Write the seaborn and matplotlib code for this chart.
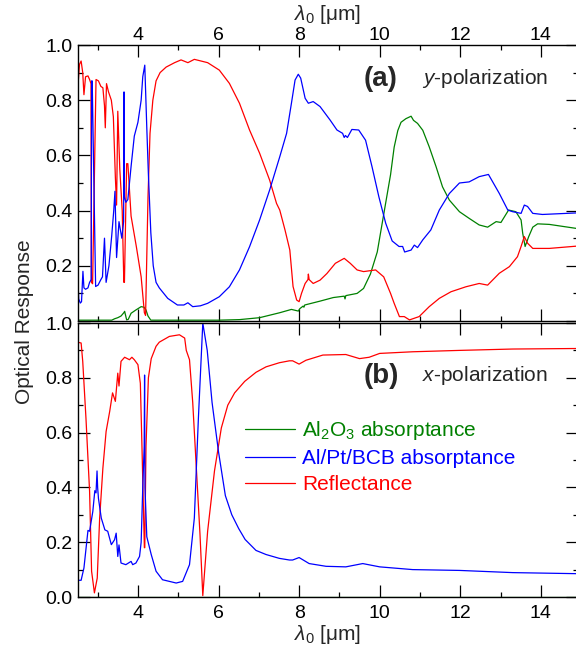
import matplotlib
matplotlib.use("Agg")
import matplotlib.pyplot as plt
from matplotlib.ticker import MultipleLocator, FuncFormatter
import seaborn as sns

# ---------------- (a) y-polarization ----------------
wl_a_al2o3 = [2.50, 3.35, 3.42, 3.50, 3.58, 3.65, 3.67, 3.72, 3.76, 3.83, 3.95, 4.08, 4.15,
              4.20, 4.25, 4.32, 6.00, 6.52, 7.02, 7.52, 7.81, 7.98, 8.02, 8.10, 8.12, 8.14,
              8.52, 8.85, 9.12, 9.14, 9.16, 9.44, 9.60, 9.77, 9.94, 10.10, 10.27, 10.36,
              10.45, 10.53, 10.65, 10.78, 10.84, 10.94, 11.07, 11.23, 11.40, 11.56, 11.73,
              11.98, 12.22, 12.47, 12.68, 12.89, 13.01, 13.20, 13.38, 13.51, 13.55, 13.61,
              13.70, 13.80, 13.92, 14.21, 14.95]
a_al2o3 = [0.003, 0.003, 0.008, 0.012, 0.018, 0.030, 0.035, 0.004, 0.006, 0.028, 0.040, 0.052,
           0.050, 0.040, 0.018, 0.003, 0.003, 0.005, 0.012, 0.030, 0.042, 0.036, 0.045, 0.054,
           0.050, 0.058, 0.072, 0.085, 0.090, 0.080, 0.092, 0.100, 0.118, 0.170, 0.250, 0.386,
           0.530, 0.630, 0.690, 0.720, 0.733, 0.742, 0.727, 0.716, 0.691, 0.631, 0.559, 0.486,
           0.438, 0.396, 0.372, 0.348, 0.340, 0.360, 0.357, 0.402, 0.396, 0.366, 0.318, 0.270,
           0.306, 0.340, 0.352, 0.350, 0.334]

wl_a_metal = [2.50, 2.53, 2.57, 2.60, 2.635, 2.66, 2.70, 2.76, 2.80, 2.84, 2.85, 2.865, 2.95,
              3.01, 3.08, 3.12, 3.17, 3.21, 3.28, 3.35, 3.40, 3.43, 3.47, 3.53, 3.60, 3.645,
              3.655, 3.665, 3.70, 3.75, 3.83, 3.91, 4.00, 4.08, 4.12, 4.17, 4.22, 4.26, 4.32,
              4.38, 4.45, 4.53, 4.74, 4.98, 5.14, 5.24, 5.36, 5.55, 5.73, 6.02, 6.27, 6.52,
              6.77, 7.02, 7.27, 7.52, 7.69, 7.81, 7.90, 7.98, 8.04, 8.15, 8.23, 8.35, 8.52,
              8.77, 8.94, 9.08, 9.12, 9.15, 9.20, 9.31, 9.48, 9.65, 9.81, 9.98, 10.15, 10.31,
              10.48, 10.57, 10.62, 10.78, 10.86, 10.94, 11.07, 11.27, 11.48, 11.73, 11.98,
              12.22, 12.47, 12.70, 12.97, 13.18, 13.30, 13.51, 13.59, 13.67, 13.80, 14.04, 14.95]
a_metal = [0.19, 0.08, 0.065, 0.07, 0.18, 0.12, 0.115, 0.12, 0.14, 0.15, 0.87, 0.87, 0.125,
           0.13, 0.15, 0.16, 0.30, 0.14, 0.20, 0.31, 0.40, 0.47, 0.23, 0.36, 0.30, 0.36,
           0.83, 0.45, 0.43, 0.44, 0.56, 0.67, 0.72, 0.80, 0.885, 0.927, 0.70, 0.53, 0.32,
           0.20, 0.14, 0.12, 0.082, 0.058, 0.058, 0.066, 0.052, 0.055, 0.064, 0.088, 0.124,
           0.185, 0.269, 0.366, 0.475, 0.595, 0.680, 0.789, 0.873, 0.894, 0.880, 0.807, 0.789,
           0.795, 0.777, 0.728, 0.692, 0.680, 0.665, 0.672, 0.665, 0.694, 0.692, 0.655, 0.559,
           0.450, 0.354, 0.290, 0.270, 0.270, 0.250, 0.257, 0.275, 0.266, 0.294, 0.330, 0.402,
           0.462, 0.500, 0.504, 0.523, 0.531, 0.462, 0.402, 0.396, 0.390, 0.420, 0.415, 0.390,
           0.386, 0.392]

wl_a_refl = [2.50, 2.55, 2.59, 2.63, 2.66, 2.70, 2.76, 2.80, 2.835, 2.845, 2.875, 2.96, 3.02,
             3.08, 3.13, 3.17, 3.19, 3.22, 3.27, 3.34, 3.39, 3.44, 3.47, 3.50, 3.55, 3.61,
             3.65, 3.665, 3.72, 3.75, 3.83, 3.96, 4.08, 4.16, 4.19, 4.25, 4.30, 4.37, 4.45,
             4.55, 4.70, 4.91, 5.07, 5.24, 5.40, 5.73, 6.02, 6.27, 6.52, 6.77, 7.02, 7.27,
             7.44, 7.52, 7.65, 7.77, 7.85, 7.94, 8.00, 8.06, 8.15, 8.22, 8.23, 8.25, 8.35,
             8.52, 8.69, 8.90, 9.12, 9.27, 9.44, 9.60, 9.90, 10.10, 10.27, 10.36, 10.49,
             10.61, 10.74, 10.98, 11.23, 11.48, 11.77, 12.14, 12.47, 12.68, 12.97, 13.22,
             13.42, 13.51, 13.59, 13.67, 13.80, 14.21, 14.95]
a_refl = [0.83, 0.93, 0.942, 0.90, 0.82, 0.885, 0.888, 0.875, 0.86, 0.14, 0.135, 0.875, 0.87,
          0.85, 0.845, 0.78, 0.70, 0.86, 0.83, 0.80, 0.74, 0.52, 0.42, 0.76, 0.55, 0.40,
          0.14, 0.14, 0.57, 0.57, 0.38, 0.27, 0.16, 0.03, 0.02, 0.45, 0.68, 0.80, 0.87,
          0.90, 0.92, 0.936, 0.946, 0.936, 0.948, 0.936, 0.909, 0.861, 0.789, 0.692, 0.608,
          0.510, 0.426, 0.402, 0.330, 0.257, 0.125, 0.076, 0.070, 0.100, 0.136, 0.150, 0.170,
          0.150, 0.136, 0.148, 0.172, 0.209, 0.227, 0.209, 0.185, 0.179, 0.185, 0.160, 0.100,
          0.064, 0.016, 0.016, 0.004, 0.016, 0.052, 0.082, 0.106, 0.124, 0.136, 0.130, 0.173,
          0.197, 0.233, 0.270, 0.306, 0.282, 0.263, 0.263, 0.272]

# ---------------- (b) x-polarization ----------------
wl_b_al2o3 = [2.50, 14.95]
b_al2o3 = [0.0, 0.0]

wl_b_metal = [2.50, 2.59, 2.66, 2.76, 2.80, 2.88, 2.93, 2.96, 2.985, 3.00, 3.02, 3.09, 3.18,
              3.25, 3.34, 3.42, 3.46, 3.50, 3.53, 3.58, 3.70, 3.83, 3.87, 3.95, 4.04, 4.08,
              4.12, 4.155, 4.165, 4.175, 4.22, 4.33, 4.45, 4.61, 4.95, 5.11, 5.28, 5.40, 5.50,
              5.61, 5.72, 5.84, 6.00, 6.17, 6.33, 6.50, 6.66, 6.93, 7.18, 7.51, 7.76, 7.84,
              8.00, 8.25, 8.67, 9.16, 9.58, 10.00, 10.82, 11.98, 13.30, 14.95]
b_metal = [0.061, 0.061, 0.106, 0.243, 0.240, 0.312, 0.388, 0.380, 0.460, 0.400, 0.360, 0.288,
           0.245, 0.240, 0.191, 0.209, 0.233, 0.148, 0.190, 0.124, 0.118, 0.130, 0.118, 0.124,
           0.148, 0.200, 0.400, 0.550, 0.810, 0.400, 0.220, 0.155, 0.094, 0.063, 0.051, 0.057,
           0.118, 0.288, 0.650, 1.000, 0.900, 0.710, 0.530, 0.370, 0.300, 0.250, 0.210, 0.170,
           0.155, 0.141, 0.135, 0.135, 0.144, 0.122, 0.112, 0.110, 0.122, 0.110, 0.100, 0.097,
           0.089, 0.085]

wl_b_refl = [2.50, 2.59, 2.63, 2.71, 2.80, 2.85, 2.92, 2.99, 3.05, 3.13, 3.21, 3.30, 3.37,
             3.44, 3.50, 3.53, 3.58, 3.67, 3.79, 3.85, 3.91, 4.00, 4.06, 4.10, 4.14, 4.16,
             4.17, 4.20, 4.26, 4.33, 4.45, 4.53, 4.78, 5.03, 5.16, 5.20, 5.28, 5.36, 5.45,
             5.54, 5.61, 5.73, 5.90, 6.07, 6.23, 6.40, 6.65, 6.93, 7.18, 7.51, 7.76, 7.84,
             8.00, 8.17, 8.59, 9.16, 9.50, 9.74, 10.00, 10.82, 11.98, 13.30, 14.95]
b_refl = [0.930, 0.927, 0.860, 0.653, 0.386, 0.094, 0.015, 0.069, 0.288, 0.470, 0.604, 0.678,
          0.745, 0.714, 0.817, 0.770, 0.860, 0.875, 0.866, 0.875, 0.866, 0.848, 0.780, 0.550,
          0.300, 0.180, 0.180, 0.550, 0.800, 0.870, 0.915, 0.930, 0.951, 0.957, 0.945, 0.900,
          0.866, 0.710, 0.470, 0.230, 0.005, 0.240, 0.460, 0.617, 0.700, 0.745, 0.787, 0.820,
          0.840, 0.855, 0.862, 0.862, 0.850, 0.864, 0.883, 0.885, 0.870, 0.875, 0.889, 0.895,
          0.900, 0.905, 0.907]

labels = [r"Al$_2$O$_3$ absorptance", "Al/Pt/BCB absorptance", "Reflectance"]
colors = ["#008000", "#0000ff", "#ff0000"]
yticks = [0.0, 0.2, 0.4, 0.6, 0.8, 1.0]

sns.set_theme(style="ticks")
plt.rcParams.update({
    "font.family": ["Liberation Sans", "DejaVu Sans"],
    "mathtext.fontset": "custom",
    "mathtext.rm": "Liberation Sans",
    "mathtext.it": "Liberation Sans:italic",
    "mathtext.bf": "Liberation Sans:bold",
    "axes.edgecolor": "black",
    "axes.linewidth": 1.0,
    "xtick.color": "black",
    "ytick.color": "black",
})

W, H = 576, 646
fig = plt.figure(figsize=(W / 100, H / 100), dpi=100)
left, width = 78.3 / W, 500 / W
ax_a = fig.add_axes([left, (H - 321) / H, width, 276 / H])
ax_b = fig.add_axes([left, (H - 597) / H, width, 274 / H])

panels = [
    (ax_a, [(wl_a_al2o3, a_al2o3), (wl_a_refl, a_refl), (wl_a_metal, a_metal)]),
    (ax_b, [(wl_b_al2o3, b_al2o3), (wl_b_refl, b_refl), (wl_b_metal, b_metal)]),
]
order = [0, 2, 1]  # green, red, blue drawing order
handles = {}
for ax, series in panels:
    for k, (wl, vals) in zip(order, series):
        sns.lineplot(x=wl, y=vals, ax=ax, color=colors[k], lw=0.9,
                     estimator=None, sort=False, legend=False)
        handles[k] = ax.lines[-1]
    ax.set_xlim(2.52, 14.93)
    ax.set_ylim(0, 1)
    ax.xaxis.set_major_locator(MultipleLocator(2))
    ax.xaxis.set_minor_locator(MultipleLocator(1))
    ax.set_yticks(yticks)
    ax.yaxis.set_minor_locator(MultipleLocator(0.1))
    ax.tick_params(which="both", direction="in", top=True, right=True,
                   bottom=True, left=True, width=0.9, labelsize=14)
    ax.tick_params(which="major", length=8.5)
    ax.tick_params(which="minor", length=3.6)
    ax.tick_params(axis="y", pad=4)
    ax.set_xlabel("")
    ax.set_ylabel("")

ax_a.tick_params(axis="x", labeltop=True, labelbottom=False, pad=1)
ax_b.tick_params(axis="x", labeltop=False, labelbottom=True, pad=6)
ax_a.yaxis.set_major_formatter(FuncFormatter(lambda v, p: "" if v < 0.05 else f"{v:.1f}"))
ax_b.yaxis.set_major_formatter(FuncFormatter(lambda v, p: f"{v:.1f}"))


def fx(px):
    return px / W


def fy(py):
    return 1 - py / H


fig.text(fx(381), fy(79), "(a)", fontsize=20, fontweight="bold", ha="center", va="center")
fig.text(fx(422), fy(79), r"$\it{y}$-polarization", fontsize=15, ha="left", va="center")
fig.text(fx(381), fy(376), "(b)", fontsize=20, fontweight="bold", ha="center", va="center")
fig.text(fx(422), fy(376), r"$\it{x}$-polarization", fontsize=15, ha="left", va="center")

fig.text(fx(328), fy(14), r"$\lambda_0$ [μm]", fontsize=15, ha="center", va="center")
fig.text(fx(328), fy(634), r"$\lambda_0$ [μm]", fontsize=15, ha="center", va="center")
fig.text(fx(25), fy(322), "Optical Response", fontsize=15, rotation=90,
         ha="center", va="center")

ax_b.legend([handles[0], handles[1], handles[2]], labels, loc="upper left",
            bbox_to_anchor=((245 - 78.3) / 500, (597 - 419) / 274),
            frameon=False, fontsize=15, handlelength=2.4, handletextpad=0.34,
            labelspacing=0.34, borderpad=0, borderaxespad=0, labelcolor="linecolor")

fig.savefig("out.png", dpi=100)
